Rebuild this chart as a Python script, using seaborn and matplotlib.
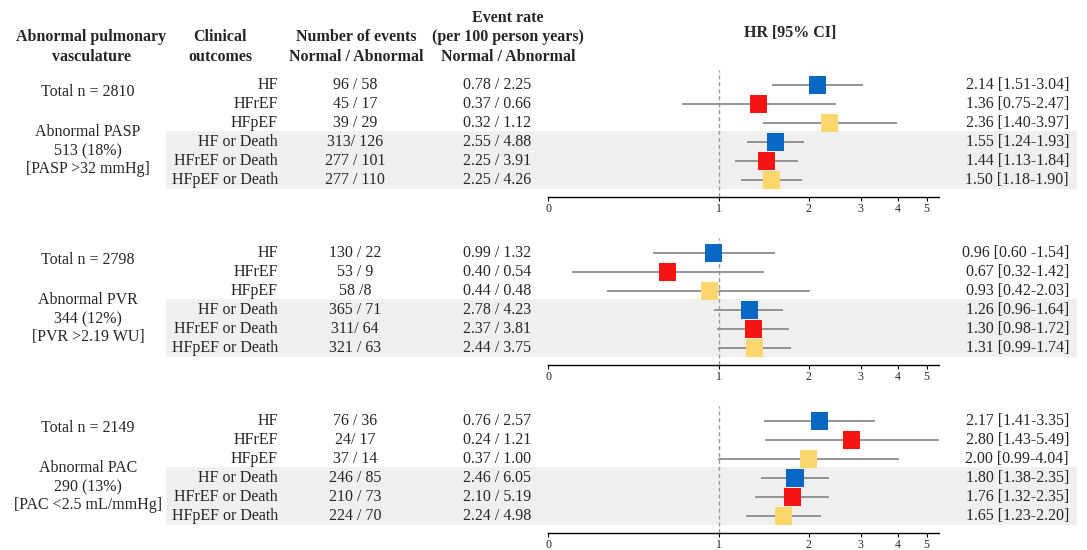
import matplotlib
matplotlib.use("Agg")
import matplotlib.pyplot as plt
import seaborn as sns
import pandas as pd
from matplotlib.patches import Rectangle

# ── data ─────────────────────────────────────────────────────────────────────
outcomes = ["HF", "HFrEF", "HFpEF", "HF or Death", "HFrEF or Death", "HFpEF or Death"]
hf_type = ["HF", "HFrEF", "HFpEF", "HF", "HFrEF", "HFpEF"]

pasp_info = ["Total n = 2810", "Abnormal PASP", "513 (18%)", "[PASP >32 mmHg]"]
pasp_events = ["96 / 58", "45 / 17", "39 / 29", "313/ 126", "277 / 101", "277 / 110"]
pasp_rates = ["0.78 / 2.25", "0.37 / 0.66", "0.32 / 1.12", "2.55 / 4.88", "2.25 / 3.91", "2.25 / 4.26"]
pasp_hr = [2.14, 1.36, 2.36, 1.55, 1.44, 1.50]
pasp_lo = [1.51, 0.75, 1.40, 1.24, 1.13, 1.18]
pasp_hi = [3.04, 2.47, 3.97, 1.93, 1.84, 1.90]
pasp_labels = ["2.14 [1.51-3.04]", "1.36 [0.75-2.47]", "2.36 [1.40-3.97]",
               "1.55 [1.24-1.93]", "1.44 [1.13-1.84]", "1.50 [1.18-1.90]"]

pvr_info = ["Total n = 2798", "Abnormal PVR", "344 (12%)", "[PVR >2.19 WU]"]
pvr_events = ["130 / 22", "53 / 9", "58 /8", "365 / 71", "311/ 64", "321 / 63"]
pvr_rates = ["0.99 / 1.32", "0.40 / 0.54", "0.44 / 0.48", "2.78 / 4.23", "2.37 / 3.81", "2.44 / 3.75"]
pvr_hr = [0.96, 0.67, 0.93, 1.26, 1.30, 1.31]
pvr_lo = [0.60, 0.32, 0.42, 0.96, 0.98, 0.99]
pvr_hi = [1.54, 1.42, 2.03, 1.64, 1.72, 1.74]
pvr_labels = ["0.96 [0.60 -1.54]", "0.67 [0.32-1.42]", "0.93 [0.42-2.03]",
              "1.26 [0.96-1.64]", "1.30 [0.98-1.72]", "1.31 [0.99-1.74]"]

pac_info = ["Total n = 2149", "Abnormal PAC", "290 (13%)", "[PAC <2.5 mL/mmHg]"]
pac_events = ["76 / 36", "24/ 17", "37 / 14", "246 / 85", "210 / 73", "224 / 70"]
pac_rates = ["0.76 / 2.57", "0.24 / 1.21", "0.37 / 1.00", "2.46 / 6.05", "2.10 / 5.19", "2.24 / 4.98"]
pac_hr = [2.17, 2.80, 2.00, 1.80, 1.76, 1.65]
pac_lo = [1.41, 1.43, 0.99, 1.38, 1.32, 1.23]
pac_hi = [3.35, 5.49, 4.04, 2.35, 2.35, 2.20]
pac_labels = ["2.17 [1.41-3.35]", "2.80 [1.43-5.49]", "2.00 [0.99-4.04]",
              "1.80 [1.38-2.35]", "1.76 [1.32-2.35]", "1.65 [1.23-2.20]"]

x_ticks = [0.265, 1, 2, 3, 4, 5]
x_ticklabels = ["0", "1", "2", "3", "4", "5"]

palette = {"HF": "#0868c4", "HFrEF": "#f61313", "HFpEF": "#fdd76c"}

panels = [
    (pasp_info, pasp_events, pasp_rates, pasp_hr, pasp_lo, pasp_hi, pasp_labels),
    (pvr_info, pvr_events, pvr_rates, pvr_hr, pvr_lo, pvr_hi, pvr_labels),
    (pac_info, pac_events, pac_rates, pac_hr, pac_lo, pac_hi, pac_labels),
]

# ── layout (pixels) ──────────────────────────────────────────────────────────
W, H = 1087, 550
ROW0, ROW_DY, PANEL_DY = 85, 19, 168
AX_LEFT, AX_RIGHT = 548, 939
FS = 11.5

sns.set_theme(style="white")
plt.rcParams["font.family"] = ["Liberation Serif", "DejaVu Serif"]

fig = plt.figure(figsize=(W / 100, H / 100), dpi=100)
bg = fig.add_axes([0, 0, 1, 1], zorder=0)
bg.set_xlim(0, W)
bg.set_ylim(H, 0)
bg.axis("off")

# headers
hdr = dict(fontsize=FS, fontweight="bold", ha="center", va="center")
bg.text(91, 37, "Abnormal pulmonary", **hdr)
bg.text(91, 57, "vasculature", **hdr)
bg.text(220, 37, "Clinical", **hdr)
bg.text(220, 57, "outcomes", **hdr)
bg.text(356, 37, "Number of events", **hdr)
bg.text(356, 57, "Normal / Abnormal", **hdr)
bg.text(508, 18, "Event rate", **hdr)
bg.text(508, 37, "(per 100 person years)", **hdr)
bg.text(508, 57, "Normal / Abnormal", **hdr)
bg.text(790, 33, "HR [95% CI]", **hdr)

for p, (info, events, rates, hr, lo, hi, labels) in enumerate(panels):
    y0 = ROW0 + p * PANEL_DY
    ys = [y0 + i * ROW_DY for i in range(len(outcomes))]

    # grey band behind the composite outcomes
    bg.add_patch(Rectangle((166, ys[3] - 11), 1077 - 166, 57.5,
                           facecolor="#efefef", edgecolor="none", zorder=0))

    txt = dict(fontsize=FS, va="center")
    for k, dy in zip(range(4), [7, 47, 66, 84]):
        bg.text(88, y0 + dy, info[k], ha="center", **txt)

    for i, y in enumerate(ys):
        bg.text(278, y, outcomes[i], ha="right", **txt)
        bg.text(355, y, events[i], ha="center", **txt)
        bg.text(497, y, rates[i], ha="center", **txt)
        bg.text(1069, y, labels[i], ha="right", **txt)

    # forest axes
    top_px, bot_px = 70 + p * PANEL_DY, 197 + p * PANEL_DY
    ax = fig.add_axes([AX_LEFT / W, 1 - bot_px / H, (AX_RIGHT - AX_LEFT) / W,
                       (bot_px - top_px) / H], zorder=1)
    ax.set_facecolor("none")

    df = pd.DataFrame({"row": range(len(outcomes)), "hr": hr, "lo": lo,
                       "hi": hi, "type": hf_type})
    ax.axvline(1, color="#9a9a9a", ls=(0, (3, 2)), lw=1, zorder=1)
    ax.hlines(df["row"], df["lo"], df["hi"], color="#8c8c8c", lw=1.3, zorder=2)
    sns.scatterplot(data=df, x="hr", y="row", hue="type", palette=palette,
                    marker="s", s=150, linewidth=0, legend=False, ax=ax, zorder=3)

    ax.set_xscale("log")
    ax.set_xlim(x_ticks[0], 5.5)
    ax.set_ylim((bot_px - y0) / ROW_DY, (top_px - y0) / ROW_DY)
    ax.set_xticks(x_ticks)
    ax.set_xticklabels(x_ticklabels)
    ax.xaxis.set_minor_locator(matplotlib.ticker.NullLocator())
    ax.set_yticks([])
    ax.set_xlabel("")
    ax.set_ylabel("")
    for s in ["top", "right", "left"]:
        ax.spines[s].set_visible(False)
    ax.spines["bottom"].set_color("black")
    ax.spines["bottom"].set_linewidth(1)
    ax.tick_params(axis="x", direction="out", length=3, width=0.8,
                   labelsize=8.5, pad=1, color="black", bottom=True)

fig.savefig("out.png", dpi=100)
